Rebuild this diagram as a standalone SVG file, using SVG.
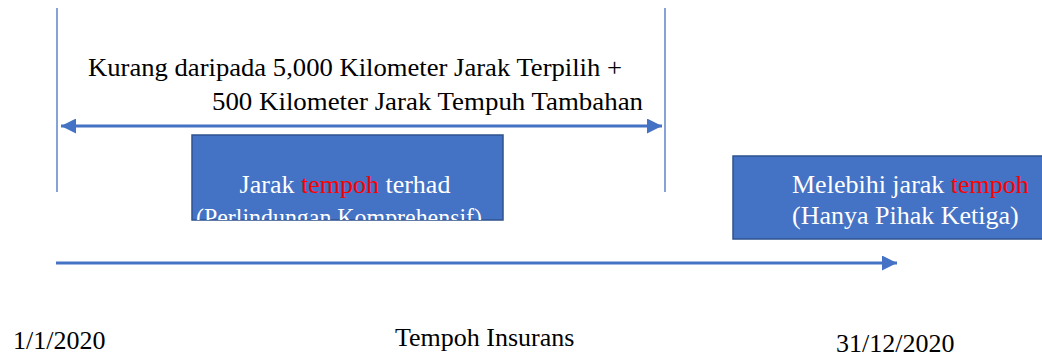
<svg xmlns="http://www.w3.org/2000/svg" width="1042" height="360" viewBox="0 0 1042 360">
<style>
text{font-family:"Liberation Serif","Times New Roman",serif;font-size:26px;fill:#000}
.w{fill:#fff}
.r{fill:#f00}
.box{fill:#4472C4;stroke:#2F528F;stroke-width:1.5}
.vl{stroke:#4472C4;stroke-width:1.3;fill:none}
.ar{stroke:#4472C4;stroke-width:3;fill:none}
</style>
<defs>
<marker id="ah" viewBox="0 0 10 10" refX="10" refY="5" markerWidth="5" markerHeight="5" markerUnits="strokeWidth" orient="auto-start-reverse">
<path d="M0,0 L10,5 L0,10 z" fill="#4472C4"/>
</marker>
<clipPath id="c1"><rect x="192" y="135" width="311" height="85"/></clipPath>
</defs>
<g id="connectors">
<line class="vl" x1="57" y1="8" x2="57" y2="192"/>
<line class="vl" x1="665" y1="8" x2="665" y2="192"/>
<line class="ar" x1="61" y1="126" x2="662" y2="126" marker-start="url(#ah)" marker-end="url(#ah)"/>
<line class="ar" x1="56" y1="263" x2="897" y2="263" marker-end="url(#ah)"/>
</g>
<g id="range-label">
<text x="88" y="76" textLength="534" lengthAdjust="spacingAndGlyphs">Kurang daripada 5,000 Kilometer Jarak Terpilih +</text>
<text x="212" y="110" textLength="431" lengthAdjust="spacingAndGlyphs">500 Kilometer Jarak Tempuh Tambahan</text>
</g>
<g id="node-limited">
<rect class="box" x="192" y="135" width="311" height="85"/>
<g clip-path="url(#c1)">
<text x="345" y="193" text-anchor="middle" class="w">Jarak <tspan class="r">tempoh</tspan> terhad</text>
<text x="196" y="226" class="w" textLength="286" lengthAdjust="spacingAndGlyphs">(Perlindungan Komprehensif)</text>
</g>
</g>
<g id="node-exceed">
<rect class="box" x="733" y="156" width="312" height="83"/>
<text x="792" y="193" class="w">Melebihi jarak <tspan class="r">tempoh</tspan></text>
<text x="792" y="224" class="w">(Hanya Pihak Ketiga)</text>
</g>
<g id="timeline-labels">
<text x="13" y="349">1/1/2020</text>
<text x="395" y="346">Tempoh Insurans</text>
<text x="836" y="352">31/12/2020</text>
</g>
</svg>
